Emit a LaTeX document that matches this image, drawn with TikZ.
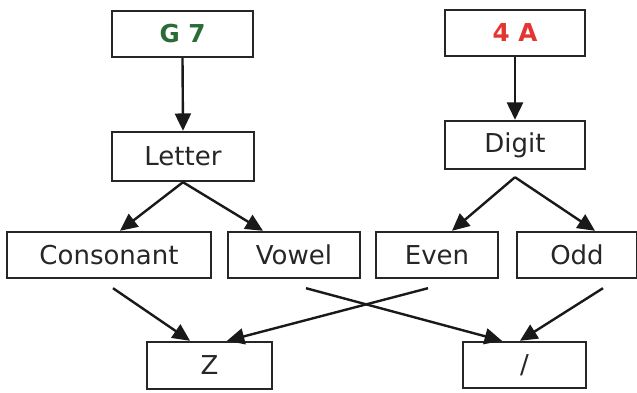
\documentclass[tikz,border=0pt]{standalone}
\usepackage{fontspec}
\setmainfont{DejaVu Sans}
\usetikzlibrary{arrows.meta}
\definecolor{ggreen}{HTML}{2A6B36}
\definecolor{rred}{HTML}{E53530}
\begin{document}
\begin{tikzpicture}[x=0.75pt,y=-0.75pt,
  box/.style={draw=black!85,line width=1.8pt,rectangle,inner sep=0pt,
    font=\fontsize{19.5}{22}\selectfont,text=black!85},
  conn/.style={draw=black!90,line width=1.8pt,-{Triangle[length=13pt,width=12pt]}}]
\useasboundingbox[fill=white] (0,0) rectangle (637,393);
\node[box,minimum width=105.75pt,minimum height=34.5pt,text=ggreen,font=\fontsize{18.5}{21}\selectfont\bfseries] (g7) at (182.5,34) {G 7};
\node[box,minimum width=105pt,minimum height=34.5pt,text=rred,font=\fontsize{18.5}{21}\selectfont\bfseries] (a4) at (515,33) {4 A};
\node[box,minimum width=106.5pt,minimum height=36.75pt] (letter) at (183,156.5) {Letter};
\node[box,minimum width=105pt,minimum height=36pt] (digit) at (515,145) {Digit};
\node[box,minimum width=153pt,minimum height=34.5pt] (cons) at (109,255) {Consonant};
\node[box,minimum width=99pt,minimum height=34.5pt] (vowel) at (294,255) {Vowel};
\node[box,minimum width=91.5pt,minimum height=34.5pt] (even) at (437,255) {Even};
\node[box,minimum width=90pt,minimum height=34.5pt] (odd) at (577,255) {Odd};
\node[box,minimum width=93.75pt,minimum height=35.25pt] (z) at (209.5,365.5) {Z};
\node[box,minimum width=92.25pt,minimum height=34.5pt] (slash) at (524.5,365) {/};
\draw[conn] (g7.south) -- (letter.north);
\draw[conn] (a4.south) -- (digit.north);
\draw[conn] (letter.south) -- ([xshift=8.25pt]cons.north);
\draw[conn] (letter.south) -- ([xshift=-23.25pt]vowel.north);
\draw[conn] ([yshift=-5.25pt]digit.south) -- ([xshift=11.25pt]even.north);
\draw[conn] ([yshift=-5.25pt]digit.south) -- ([xshift=13.5pt]odd.north);
\draw[conn] ([xshift=3pt,yshift=-6.75pt]cons.south) -- ([xshift=-14.6pt]z.north);
\draw[conn] ([xshift=9pt,yshift=-6.75pt]vowel.south) -- ([xshift=-16.9pt]slash.north);
\draw[conn] ([xshift=-6.75pt,yshift=-6.75pt]even.south) -- ([xshift=13.1pt]z.north);
\draw[conn] ([xshift=19.5pt,yshift=-6.75pt]odd.south) -- ([xshift=-3.4pt]slash.north);
\end{tikzpicture}
\end{document}
